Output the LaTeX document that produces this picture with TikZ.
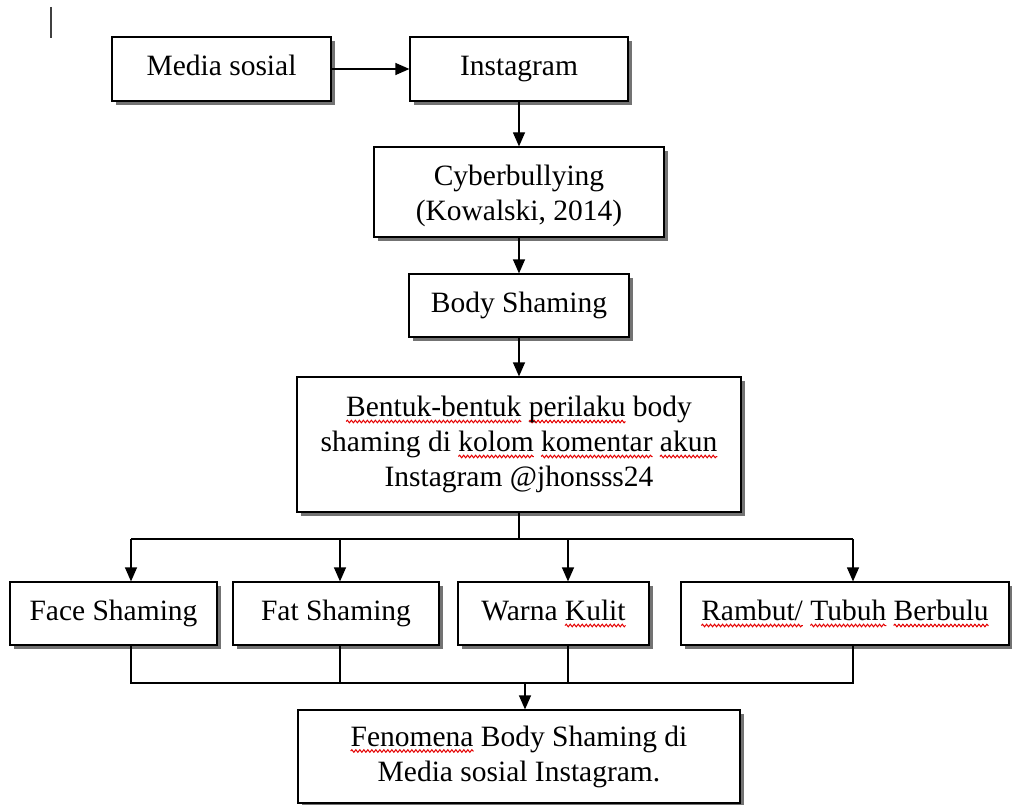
\documentclass[tikz,border=0pt]{standalone}
\usepackage{fontspec}
\setmainfont{Liberation Serif}
\usetikzlibrary{arrows.meta,shadows,decorations.pathmorphing}
\newlength\wvlen
\newcommand\wv[1]{\settowidth{\wvlen}{#1}\leavevmode\rlap{\tikz[overlay,baseline=0pt]\draw[red!90!black,line width=1pt,decorate,decoration={snake,amplitude=1.3pt,segment length=4pt}] (0pt,-5pt) -- (\wvlen,-5pt);}#1}
\newcommand\sth{\rule{0pt}{24pt}}
\newcommand\std{\rule[-10pt]{0pt}{0pt}}
\begin{document}
\begin{tikzpicture}[x=1pt,y=-1pt,
  box/.style={draw=black,line width=1.2pt,fill=white,rectangle,inner sep=0pt,align=center,
    font=\fontsize{29.5}{35}\selectfont,
    drop shadow={shadow xshift=4pt,shadow yshift=-4pt,fill=black!55,opacity=1}},
  conn/.style={line width=1.2pt,draw=black},
  arr/.style={conn,-{Triangle[length=14pt,width=12pt]}}]
\useasboundingbox (0,0) rectangle (1012,805);
% cursor artifact
\draw[line width=1.2pt,black!75] (51,7) -- (51,38);
% nodes
\node[box,minimum width=219pt,minimum height=64pt] (media) at (221.5,69) {\sth\std Media sosial};
\node[box,minimum width=218pt,minimum height=64pt] (insta) at (519,69) {\sth\std Instagram};
\node[box,minimum width=290pt,minimum height=90pt] (cyber) at (519,192) {\rule{0pt}{33pt}Cyberbullying\\\std(Kowalski, 2014)};
\node[box,minimum width=220pt,minimum height=63pt] (body) at (519,305.5) {\sth\std Body Shaming};
\node[box,minimum width=444pt,minimum height=135pt] (bentuk) at (519,444.5) {\sth\wv{Bentuk-bentuk} \wv{perilaku} body\\shaming di \wv{kolom} \wv{komentar} \wv{akun}\\\std Instagram @jhonsss24};
\node[box,minimum width=207pt,minimum height=63pt] (face) at (113.5,613.5) {\sth\std Face Shaming};
\node[box,minimum width=206pt,minimum height=63pt] (fat) at (336,613.5) {\sth\std Fat Shaming};
\node[box,minimum width=191pt,minimum height=63pt] (warna) at (553.5,613.5) {\sth\std Warna \wv{Kulit}};
\node[box,minimum width=328pt,minimum height=63pt] (rambut) at (845,613.5) {\sth\std\wv{Rambut/} \wv{Tubuh} \wv{Berbulu}};
\node[box,minimum width=442pt,minimum height=93pt] (fenomena) at (519,756.5) {\sth\wv{Fenomena} Body Shaming di\\\std Media sosial Instagram.};
% connectors
\draw[arr] (media) -- (insta);
\draw[arr] (insta) -- (cyber);
\draw[arr] (cyber) -- (body);
\draw[arr] (body) -- (bentuk);
\coordinate (sp) at (519,539);
\coordinate (t1) at (131,539);
\coordinate (t2) at (340,539);
\coordinate (t3) at (568,539);
\coordinate (t4) at (853,539);
\draw[conn] (bentuk.south) -- (sp);
\draw[conn] (t1) -- (t4);
\draw[arr] (t1) -- (t1 |- face.north);
\draw[arr] (t2) -- (t2 |- fat.north);
\draw[arr] (t3) -- (t3 |- warna.north);
\draw[arr] (t4) -- (t4 |- rambut.north);
\coordinate (b1) at (131,683);
\coordinate (b2) at (340,683);
\coordinate (b3) at (568,683);
\coordinate (b4) at (853,683);
\coordinate (bm) at (525,683);
\draw[conn] (b1 |- face.south) -- (b1) -- (b4) -- (b4 |- rambut.south);
\draw[conn] (b2 |- fat.south) -- (b2);
\draw[conn] (b3 |- warna.south) -- (b3);
\draw[arr] (bm) -- (bm |- fenomena.north);
\end{tikzpicture}
\end{document}
